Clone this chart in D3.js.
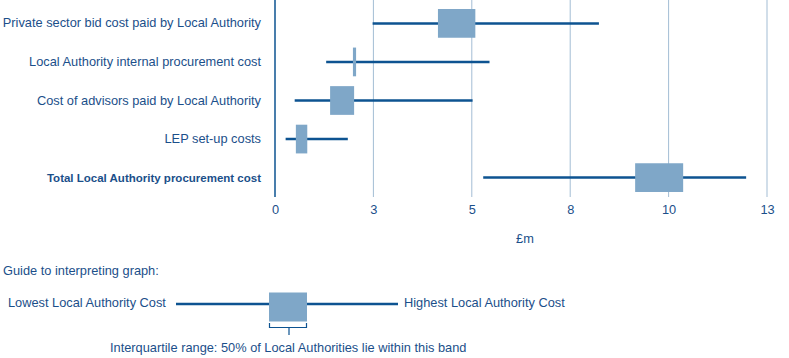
<!DOCTYPE html>
<html>
<head>
<meta charset="utf-8">
<script src="https://cdn.jsdelivr.net/npm/d3@7"></script>
<style>
  html, body { margin: 0; padding: 0; background: #fff; }
  svg { display: block; font-family: "Liberation Sans", Arial, sans-serif; }
  text { fill: #1b4f8a; }
</style>
</head>
<body>
<div id="chart"></div>
<script>
// Данные
const categories = [
    'Private sector bid cost paid by Local Authority',
    'Local Authority internal procurement cost',
    'Cost of advisors paid by Local Authority',
    'LEP set-up costs',
    'Total Local Authority procurement cost'
];
const lowValues = [2.48, 1.30, 0.50, 0.27, 5.29];
const q1Values = [4.14, 1.98, 1.40, 0.53, 9.15];
const q3Values = [5.09, 2.06, 2.01, 0.82, 10.37];
const highValues = [8.23, 5.45, 5.02, 1.85, 11.97];
const tickValues = [0, 2.5, 5, 7.5, 10, 12.5];
const tickLabels = ['0', '3', '5', '8', '10', '13'];

const width = 789, height = 358;
const dark = '#0d5391', boxFill = '#7fa7c8', grid = '#a3bdd4';
const fs = 12.8;

const svg = d3.select('#chart').append('svg')
    .attr('width', width).attr('height', height);

const x = d3.scaleLinear().domain([0, 12.5]).range([275, 767]);
const y = d3.scaleBand().domain(categories).range([4, 197]).paddingInner(0.255).paddingOuter(0.13);

// Сетка
svg.append('g').selectAll('line')
    .data(tickValues.slice(1))
    .join('line')
    .attr('x1', d => x(d)).attr('x2', d => x(d))
    .attr('y1', 0).attr('y2', 197)
    .attr('stroke', grid).attr('stroke-width', 1);

// Ось X
const xAxis = svg.append('g')
    .attr('transform', 'translate(0,197)')
    .call(d3.axisBottom(x).tickValues(tickValues).tickSize(0).tickPadding(8)
        .tickFormat((d, i) => tickLabels[i]));
xAxis.select('.domain').remove();
xAxis.selectAll('text').attr('font-size', fs).style('fill', '#1b4f8a')
    .attr('font-family', '"Liberation Sans", Arial, sans-serif');

// Вертикальная ось
svg.append('line')
    .attr('x1', x(0)).attr('x2', x(0)).attr('y1', 0).attr('y2', 197)
    .attr('stroke', dark).attr('stroke-width', 1.5);

svg.append('text')
    .attr('x', 525).attr('y', 243)
    .attr('text-anchor', 'middle').attr('font-size', fs)
    .text('£m');

// Подписи категорий
const last = categories.length - 1;
svg.append('g').selectAll('text')
    .data(categories)
    .join('text')
    .attr('x', 261)
    .attr('y', d => y(d) + y.bandwidth() / 2 + 4)
    .attr('text-anchor', 'end')
    .attr('font-size', (d, i) => i === last ? 11.5 : fs)
    .attr('font-weight', (d, i) => i === last ? 'bold' : 'normal')
    .text(d => d);

// Усы
const rows = categories.map((c, i) => ({
    cat: c, low: lowValues[i], q1: q1Values[i], q3: q3Values[i], high: highValues[i]
}));

svg.append('g').selectAll('line')
    .data(rows)
    .join('line')
    .attr('x1', d => x(d.low)).attr('x2', d => x(d.high))
    .attr('y1', d => y(d.cat) + y.bandwidth() / 2)
    .attr('y2', d => y(d.cat) + y.bandwidth() / 2)
    .attr('stroke', dark).attr('stroke-width', 2.5);

// Межквартильный размах
svg.append('g').selectAll('rect')
    .data(rows)
    .join('rect')
    .attr('x', d => x(d.q1))
    .attr('width', d => x(d.q3) - x(d.q1))
    .attr('y', d => y(d.cat))
    .attr('height', y.bandwidth())
    .attr('fill', boxFill);

// Пояснение
const guide = svg.append('g');
guide.append('text').attr('x', 3).attr('y', 275).attr('font-size', fs)
    .text('Guide to interpreting graph:');
guide.append('text').attr('x', 8).attr('y', 307).attr('font-size', fs)
    .text('Lowest Local Authority Cost');
guide.append('line').attr('x1', 176).attr('x2', 398).attr('y1', 304).attr('y2', 304)
    .attr('stroke', dark).attr('stroke-width', 2.5);
guide.append('rect').attr('x', 269).attr('y', 292.5).attr('width', 38).attr('height', 29)
    .attr('fill', boxFill);
guide.append('path')
    .attr('d', 'M269.5,323 V327.5 H306.5 V323 M289,327.5 V335')
    .attr('fill', 'none').attr('stroke', dark).attr('stroke-width', 1.2);
guide.append('text').attr('x', 404).attr('y', 307).attr('font-size', fs)
    .text('Highest Local Authority Cost');
guide.append('text').attr('x', 110).attr('y', 352).attr('font-size', fs)
    .text('Interquartile range: 50% of Local Authorities lie within this band');
</script>
</body>
</html>
